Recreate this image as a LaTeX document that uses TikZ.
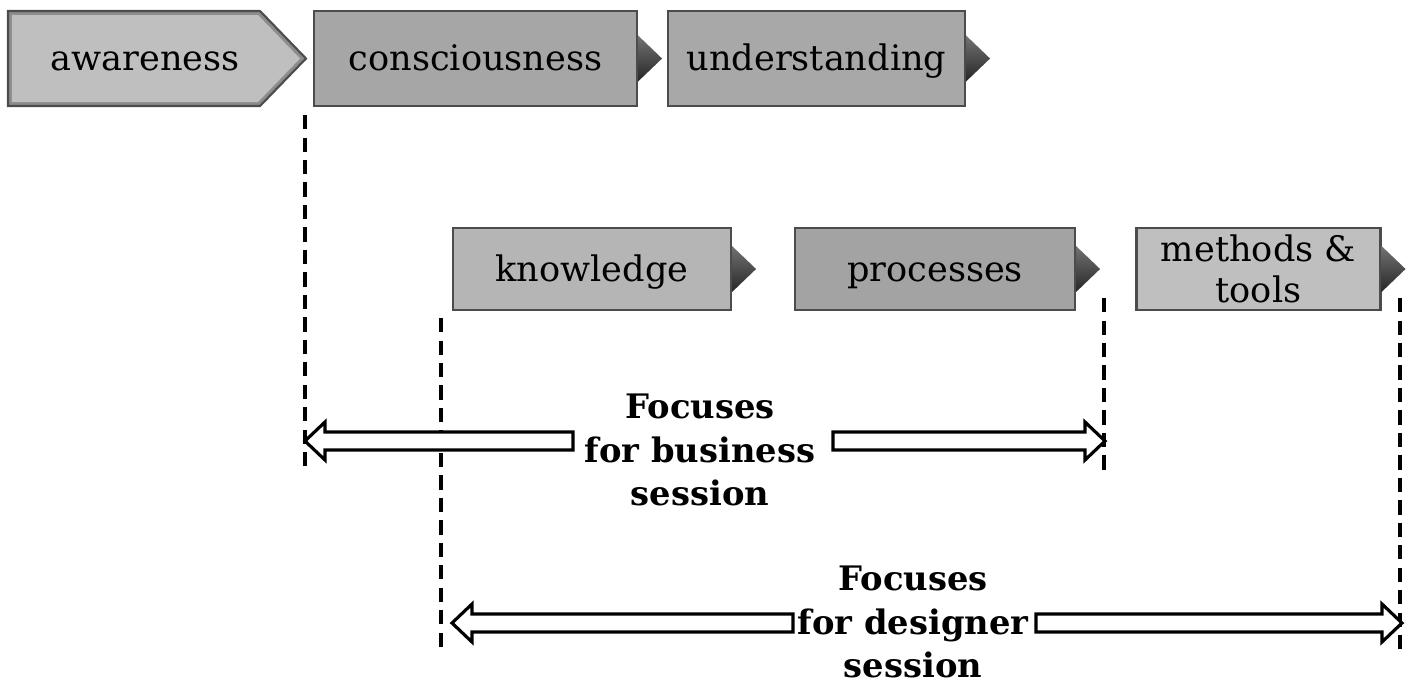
\documentclass[tikz,border=0pt]{standalone}
\usepackage{fontspec}
\setmainfont{DejaVu Serif}
\usetikzlibrary{calc}

\newcommand\hollowarrow[2]{%
  \draw[hollow] ($(#1)+(0,0.09)$) -- ($(#2)!0.2cm!(#1)+(0,0.09)$)
    -- ($(#2)!0.2cm!(#1)+(0,0.19)$) -- (#2)
    -- ($(#2)!0.2cm!(#1)+(0,-0.19)$) -- ($(#2)!0.2cm!(#1)+(0,-0.09)$)
    -- ($(#1)+(0,-0.09)$) -- cycle;}

\begin{document}
\begin{tikzpicture}[
  every node/.style = {align=center, inner sep=0pt,
    font=\fontsize{10}{11.5}\selectfont},
  oneline/.style = {text height=7pt, text depth=0pt},
  stage/.style  = {shape=rectangle, draw=black!70, line width=0.6pt,
    minimum height=0.95cm},
  substage/.style = {stage, minimum height=0.82cm},
  bevel/.style  = {draw=black!70, line width=0.6pt, fill=black!45},
  pointer/.style = {top color=black!55, bottom color=black!85},
  guide/.style  = {line width=1.2pt, dash pattern=on 4pt off 2.4pt},
  hollow/.style = {draw, fill=white, line width=0.9pt},
  focus/.style  = {font=\bfseries\fontsize{9.6}{12.4}\selectfont}]
\useasboundingbox (0,0) rectangle (14.16,-6.86);

\draw[bevel] (0.08,-0.11) -- (2.60,-0.11) -- (3.06,-0.585)
  -- (2.60,-1.06) -- (0.08,-1.06) -- cycle;
\fill[black!25] (0.12,-0.15) -- (2.58,-0.15) -- (3.00,-0.585)
  -- (2.58,-1.02) -- (0.12,-1.02) -- cycle;
\node[oneline] (aware) at (1.45,-0.585) {awareness};
\node[stage, oneline, fill=black!35, minimum width=3.23cm] (consc) at (4.755,-0.585) {consciousness};
\node[stage, oneline, fill=black!34, minimum width=2.97cm] (under) at (8.165,-0.585) {understanding};
\node[substage, oneline, fill=black!29, minimum width=2.78cm] (know) at (5.92,-2.69) {knowledge};
\node[substage, oneline, fill=black!36, minimum width=2.80cm] (proc) at (9.35,-2.69) {processes};
\node[substage, fill=black!25, minimum width=2.44cm] (meth) at (12.585,-2.69) {methods \&\\tools};
\foreach \b in {consc,under,know,proc,meth}
  \shade[pointer] ([yshift=0.23cm]\b.east) -- ([xshift=0.24cm]\b.east)
    -- ([yshift=-0.23cm]\b.east) -- cycle;

\coordinate (g1a) at (3.05,-1.15);  \coordinate (g1b) at (3.05,-4.68);
\coordinate (g2a) at (4.41,-3.18);  \coordinate (g2b) at (4.41,-6.50);
\coordinate (g3a) at (11.04,-2.98); \coordinate (g3b) at (11.04,-4.75);
\coordinate (g4a) at (14.00,-2.98); \coordinate (g4b) at (14.00,-6.50);
\foreach \g in {g1,g2,g3,g4}
  \draw[guide] (\g a) -- (\g b);

\node[focus] (bizlbl) at (7.00,-4.50) {Focuses\\for business\\session};
\node[focus] (deslbl) at (9.13,-6.22) {Focuses\\for designer\\session};

\coordinate (bizL) at (3.05,-4.41);  \coordinate (bizLt) at (5.73,-4.41);
\coordinate (bizR) at (11.05,-4.41); \coordinate (bizRt) at (8.33,-4.41);
\coordinate (desL) at (4.52,-6.23);  \coordinate (desLt) at (7.93,-6.23);
\coordinate (desR) at (14.02,-6.23); \coordinate (desRt) at (10.36,-6.23);
\hollowarrow{bizLt}{bizL}
\hollowarrow{bizRt}{bizR}
\hollowarrow{desLt}{desL}
\hollowarrow{desRt}{desR}
\end{tikzpicture}
\end{document}
